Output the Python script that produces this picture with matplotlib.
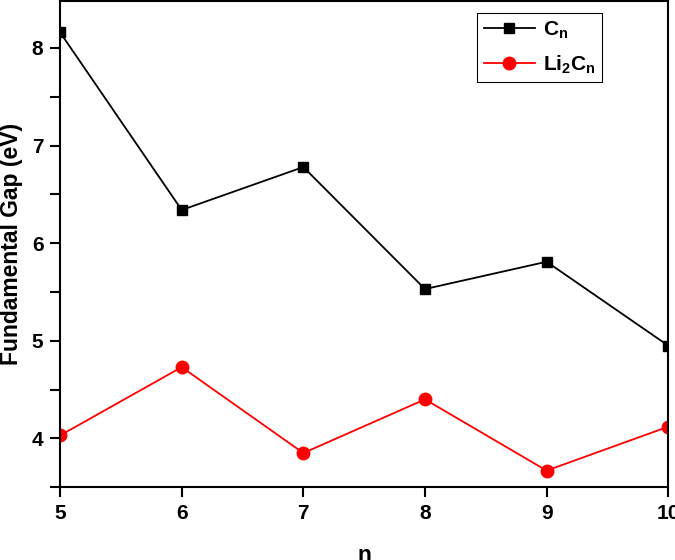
import matplotlib
matplotlib.use("Agg")
import matplotlib.pyplot as plt
from matplotlib.ticker import MultipleLocator

# Data
n = [5, 6, 7, 8, 9, 10]
gap_cn = [8.16, 6.34, 6.78, 5.53, 5.81, 4.95]
gap_li2cn = [4.03, 4.73, 3.85, 4.40, 3.67, 4.12]

plt.rcParams['font.family'] = 'Liberation Sans'
plt.rcParams['font.weight'] = 'bold'
plt.rcParams['mathtext.fontset'] = 'custom'
plt.rcParams['mathtext.rm'] = 'Liberation Sans:bold'
plt.rcParams['mathtext.bf'] = 'Liberation Sans:bold'
plt.rcParams['mathtext.default'] = 'rm'

fig = plt.figure(figsize=(6.75, 5.6), dpi=100)
ax = fig.add_axes([0.089, 0.13, 0.901, 0.868])

ax.plot(n, gap_cn, color='black', lw=1.3, marker='s', ms=7, label='C$_n$')
ax.plot(n, gap_li2cn, color='red', lw=1.3, marker='o', ms=9, label='Li$_2$C$_n$')

ax.set_xlim(5, 10)
ax.set_ylim(3.5, 8.48)
ax.xaxis.set_major_locator(MultipleLocator(1))
ax.yaxis.set_major_locator(MultipleLocator(1))
ax.yaxis.set_minor_locator(MultipleLocator(0.5))

for s in ax.spines.values():
    s.set_linewidth(1.5)
ax.tick_params(axis='both', which='major', direction='out', length=7, width=1.5,
               labelsize=15, pad=5)
ax.tick_params(axis='y', which='minor', direction='out', length=7, width=1.5)

ax.set_xlabel('n', fontsize=16.5, fontweight='bold', labelpad=15)
ax.set_ylabel('Fundamental Gap (eV)', fontsize=16.5, fontweight='bold', labelpad=6)

leg = ax.legend(loc='upper right', bbox_to_anchor=(0.891, 0.975), fontsize=15,
                fancybox=False, framealpha=1, edgecolor='black',
                handlelength=2.45, handletextpad=0.4, labelspacing=0.6,
                borderpad=0.3, borderaxespad=0)
leg.get_frame().set_linewidth(0.8)

plt.savefig('out.png', dpi=100)
